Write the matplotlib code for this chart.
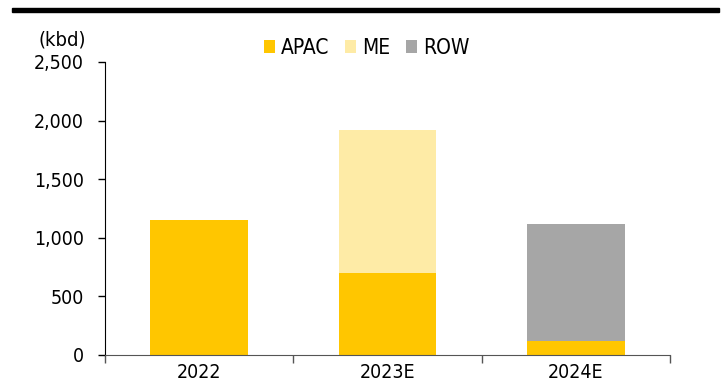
import matplotlib
matplotlib.use("Agg")
import matplotlib.pyplot as plt
from matplotlib.patches import Rectangle
import numpy as np

plt.rcParams['font.family'] = ['DejaVu Sans']
plt.rcParams['font.stretch'] = 'condensed'

years = ["2022", "2023E", "2024E"]
apac = [1150, 700, 120]
me = [0, 1220, 0]
row = [0, 0, 1000]

c_apac = "#ffc600"
c_me = "#feeba6"
c_row = "#a6a6a6"

fig = plt.figure(figsize=(7.24, 3.83), dpi=100)
ax = fig.add_axes([105 / 724, 28 / 383, 565 / 724, 293 / 383])

x = np.arange(len(years))
w = 0.52
ax.bar(x, apac, w, color=c_apac, label="APAC")
ax.bar(x, me, w, bottom=apac, color=c_me, label="ME")
ax.bar(x, row, w, bottom=np.array(apac) + np.array(me), color=c_row, label="ROW")

ax.set_xlim(-0.5, len(years) - 0.5)
ax.set_ylim(0, 2500)
ax.set_yticks(range(0, 2501, 500))
ax.set_yticklabels([f"{v:,}" for v in range(0, 2501, 500)], fontsize=14)
ax.tick_params(axis="y", direction="out", length=5, width=1, pad=10)

# category labels centred, ticks at category edges
ax.set_xticks(x)
ax.set_xticklabels(years, fontsize=14)
ax.set_xticks(np.arange(-0.5, len(years)), minor=True)
ax.tick_params(axis="x", which="major", length=0, pad=6)
ax.tick_params(axis="x", which="minor", direction="out", length=6, width=1, color="#555555")

for s in ["top", "right"]:
    ax.spines[s].set_visible(False)
ax.spines["left"].set_color("black")
ax.spines["bottom"].set_color("#555555")

fig.text(62 / 724, 1 - 40 / 383, "(kbd)", fontsize=14.5, ha="center", va="center")

fig.legend(*ax.get_legend_handles_labels(), loc="center",
           bbox_to_anchor=(367 / 724, 1 - 48 / 383), ncol=3, frameon=False,
           fontsize=15, handlelength=0.53, handleheight=0.53, handletextpad=0.3,
           columnspacing=0.75, borderpad=0)

# heading rule across the top
fig.add_artist(Rectangle((12 / 724, 1 - 12 / 383), 707 / 724, 4 / 383, transform=fig.transFigure,
                         color="black", clip_on=False))

fig.savefig("out.png", dpi=100)
